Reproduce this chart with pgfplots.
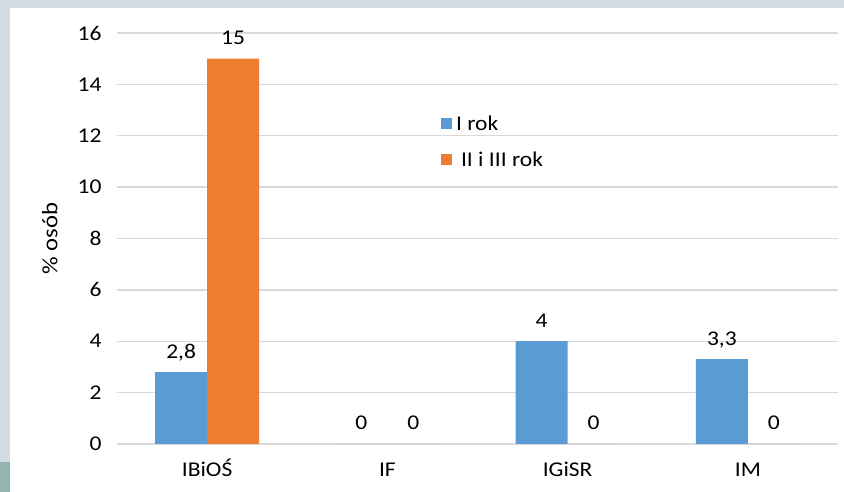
\documentclass[border=0pt]{standalone}
\usepackage{pgfplots}
\pgfplotsset{compat=1.18}
\usepackage{fontspec}
\setmainfont{Carlito}[FakeStretch=1.12]
\definecolor{sblue}{HTML}{5B9BD5}
\definecolor{sorange}{HTML}{ED7D31}
\definecolor{gridc}{HTML}{D9D9D9}
\definecolor{framec}{HTML}{D3DCE0}
\definecolor{tealc}{HTML}{95B3AF}
\newcommand{\lbl}{\fontsize{21bp}{25bp}\selectfont}
\begin{document}
\begin{tikzpicture}[x=1bp,y=1bp]
\useasboundingbox (0,0) rectangle (844,492);
\fill[framec] (0,0) rectangle (844,492);
\fill[tealc] (0,0) rectangle (10,30);
\fill[white] (10,0) rectangle (844,484);
\begin{axis}[
at={(117bp,48bp)}, anchor=south west,
scale only axis, width=721bp, height=411bp,
ybar=0pt, bar width=52bp,
xmin=-0.5, xmax=3.5, ymin=0, ymax=16,
xtick={0,1,2,3}, xticklabels={IBiOŚ,IF,IGiSR,IM},
ytick={0,2,...,16},
axis line style={draw=none},
major tick length=0pt,
ymajorgrids, grid style={gridc, line width=1.3bp},
tick label style={font=\lbl},
xticklabel style={anchor=base, yshift=-33bp},
yticklabel style={xshift=-12bp},
ylabel={\% osób},
ylabel style={font=\fontsize{22bp}{26bp}\selectfont, at={(axis description cs:-0.093,0.5)}, anchor=center},
nodes near coords,
every node near coord/.append style={font=\lbl, text=black, anchor=base, yshift=14bp},
/pgf/number format/use comma,
/pgf/number format/assume math mode=true,
legend style={at={(rel axis cs:0.445,0.808)}, anchor=north west, draw=none, fill=none, font=\lbl, row sep=16bp, column sep=2bp},
legend image code/.code={\fill[#1] (0bp,-5bp) rectangle (11bp,6bp);},
legend cell align=left,
]
\addplot[fill=sblue, draw=none] coordinates {(0,2.8) (1,0) (2,4) (3,3.3)};
\addplot[fill=sorange, draw=none] coordinates {(0,15) (1,0) (2,0) (3,0)};
\legend{I rok,\hspace{5bp}II i III rok}
\end{axis}
\end{tikzpicture}
\end{document}
